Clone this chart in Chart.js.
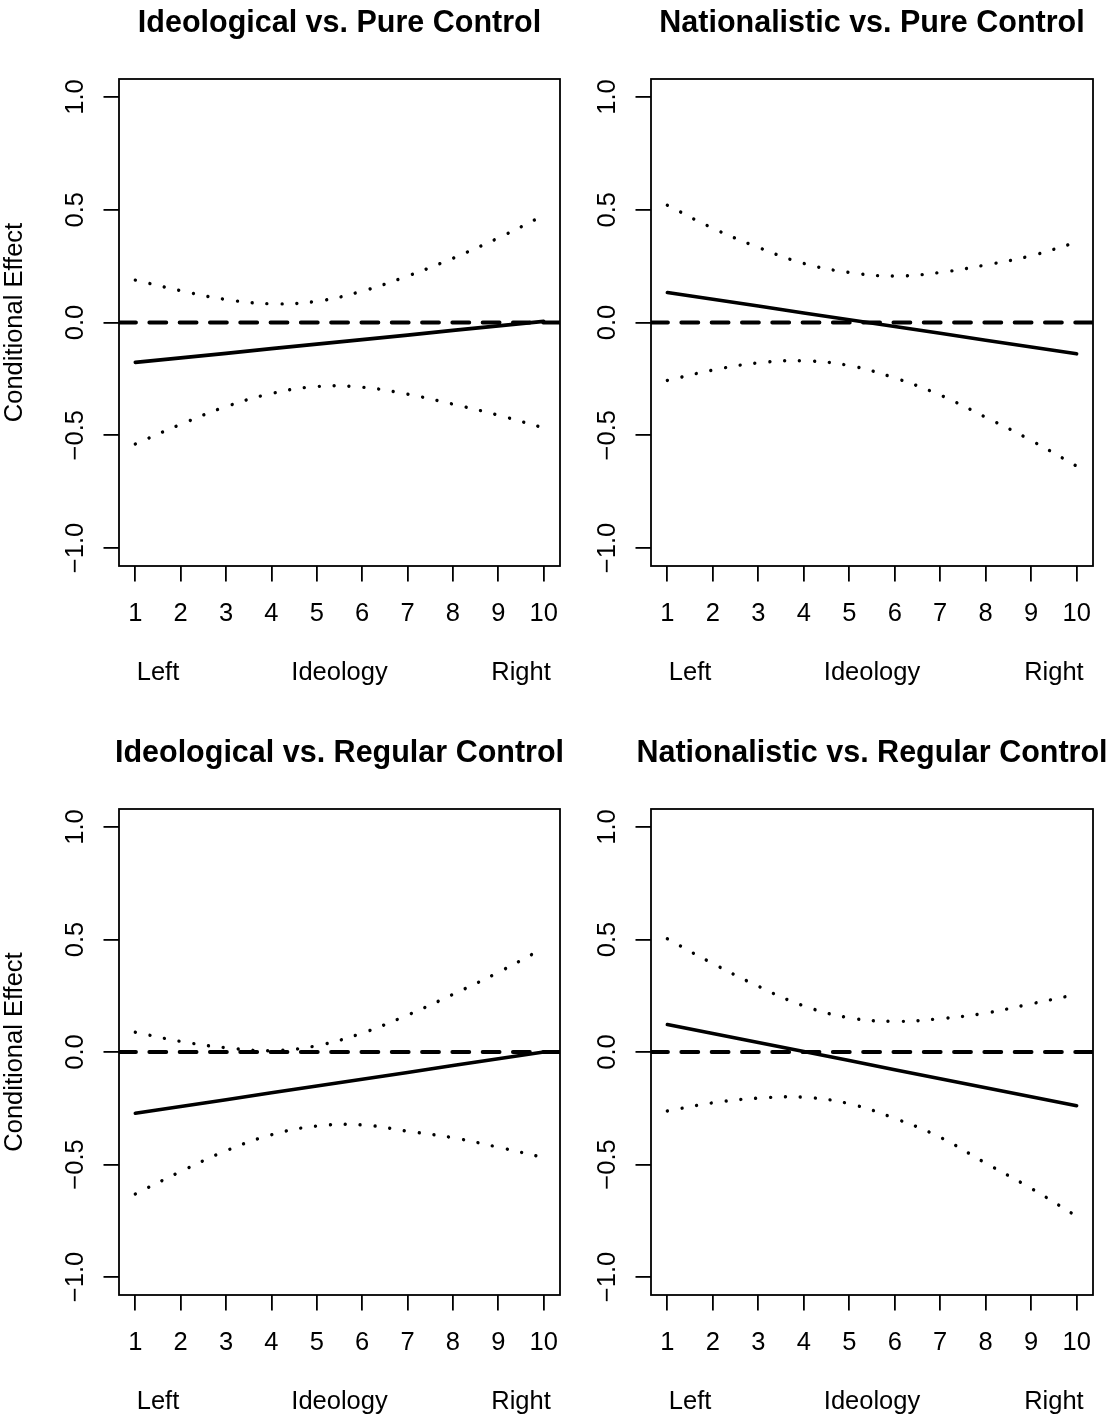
<!DOCTYPE html>
<html>
<head>
<meta charset="utf-8">
<title>Conditional effects by ideology</title>
<script src="https://cdn.jsdelivr.net/npm/chart.js@4.4.1/dist/chart.umd.min.js"></script>
<style>
  html, body { margin: 0; padding: 0; background: #fff; overflow: hidden; }
  #page { position: relative; width: 1107px; height: 1418px; overflow: hidden; }
  #page canvas { position: absolute; }
</style>
</head>
<body>
<div id="page"></div>
<script>
// x positions and tick labels
const ideology = [1, 2, 3, 4, 5, 6, 7, 8, 9, 10];
const yTicks = [-1, -0.5, 0, 0.5, 1];
const sideTicks = [1.5, 5.5, 9.5];
const sideLabels = ["Left", "Ideology", "Right"];
const xLimits = [0.64, 10.36];
const yLimits = [-1.08, 1.08];

const panelTitles = [
  "Ideological vs. Pure Control",
  "Nationalistic vs. Pure Control",
  "Ideological vs. Regular Control",
  "Nationalistic vs. Regular Control"
];

// Ideological vs. Pure Control
const ideoPureEffect = [-0.177, -0.157, -0.137, -0.116, -0.096, -0.076, -0.056, -0.035, -0.015, 0.005];
const ideoPureUpper  = [0.188, 0.141, 0.102, 0.083, 0.094, 0.139, 0.206, 0.285, 0.375, 0.475];
const ideoPureLower  = [-0.539, -0.452, -0.373, -0.315, -0.284, -0.287, -0.318, -0.362, -0.411, -0.467];

// Nationalistic vs. Pure Control
const natPureEffect = [0.133, 0.103, 0.073, 0.042, 0.012, -0.018, -0.048, -0.079, -0.109, -0.139];
const natPureUpper  = [0.520, 0.418, 0.333, 0.262, 0.222, 0.206, 0.222, 0.255, 0.296, 0.356];
const natPureLower  = [-0.257, -0.211, -0.179, -0.170, -0.191, -0.246, -0.322, -0.420, -0.523, -0.637];

// Ideological vs. Regular Control
const ideoRegEffect = [-0.272, -0.242, -0.212, -0.181, -0.151, -0.121, -0.091, -0.060, -0.030, 0.000];
const ideoRegUpper  = [0.088, 0.047, 0.019, 0.006, 0.028, 0.084, 0.164, 0.256, 0.354, 0.462];
const ideoRegLower  = [-0.631, -0.531, -0.439, -0.368, -0.329, -0.324, -0.352, -0.381, -0.423, -0.469];

// Nationalistic vs. Regular Control
const natRegEffect = [0.122, 0.082, 0.042, 0.002, -0.038, -0.079, -0.119, -0.159, -0.199, -0.239];
const natRegUpper  = [0.503, 0.393, 0.292, 0.205, 0.152, 0.136, 0.148, 0.173, 0.214, 0.256];
const natRegLower  = [-0.262, -0.226, -0.205, -0.201, -0.230, -0.295, -0.379, -0.494, -0.606, -0.730];

const ink = "#000";
const family = '"Liberation Sans", Arial, Helvetica, sans-serif';
const labelFont = { family: family, size: 25.5 };

Chart.defaults.font.family = family;
Chart.defaults.color = ink;

// where each panel sits on the page and how its plot box is placed inside it
const panels = [
  { title: panelTitles[0], effect: ideoPureEffect, upper: ideoPureUpper, lower: ideoPureLower,
    left: 0, top: 0, width: 565, height: 730, axisWidth: 119, padRight: 5, padBottom: 34, yTitle: true },
  { title: panelTitles[1], effect: natPureEffect, upper: natPureUpper, lower: natPureLower,
    left: 565, top: 0, width: 542, height: 730, axisWidth: 86, padRight: 14, padBottom: 34, yTitle: false },
  { title: panelTitles[2], effect: ideoRegEffect, upper: ideoRegUpper, lower: ideoRegLower,
    left: 0, top: 730, width: 565, height: 708, axisWidth: 119, padRight: 5, padBottom: 13, yTitle: true },
  { title: panelTitles[3], effect: natRegEffect, upper: natRegUpper, lower: natRegLower,
    left: 565, top: 730, width: 542, height: 708, axisWidth: 86, padRight: 14, padBottom: 13, yTitle: false }
];

// box around the plot region plus the bold heading above it
const panelFrame = {
  id: "panelFrame",
  afterDatasetsDraw(chart, args, opts) {
    const { ctx, chartArea: a } = chart;
    ctx.save();
    ctx.strokeStyle = ink;
    ctx.lineWidth = 1.8;
    ctx.strokeRect(a.left, a.top, a.right - a.left, a.bottom - a.top);
    ctx.font = "bold 30.5px " + family;
    ctx.fillStyle = ink;
    ctx.textAlign = "center";
    ctx.textBaseline = "middle";
    ctx.fillText(opts.title, (a.left + a.right) / 2, a.top - 55);
    ctx.restore();
  }
};

const toPoints = (values) => ideology.map((x, i) => ({ x: x, y: values[i] }));
const minus = (v) => v.toFixed(1).replace("-", "\u2212");
const noPadding = (s) => { s.paddingLeft = 0; s.paddingRight = 0; s.paddingTop = 0; s.paddingBottom = 0; };

function buildScales(p) {
  return {
    x: {
      type: "linear", position: "bottom", min: xLimits[0], max: xLimits[1], bounds: "data",
      afterBuildTicks: (s) => { s.ticks = ideology.map((v) => ({ value: v })); },
      afterFit: (s) => { s.height = 70; noPadding(s); },
      grid: { drawOnChartArea: false, drawTicks: true, tickLength: 15.5, lineWidth: 1.8, color: ink },
      border: { display: false },
      ticks: { font: labelFont, color: ink, padding: 17, autoSkip: false, maxRotation: 0,
               callback: (v) => String(v) }
    },
    side: {
      type: "linear", position: "bottom", weight: 1, min: xLimits[0], max: xLimits[1], bounds: "data",
      afterBuildTicks: (s) => { s.ticks = sideTicks.map((v) => ({ value: v })); },
      afterFit: (s) => { s.height = 60; noPadding(s); },
      grid: { display: false, drawTicks: false, tickLength: 0 },
      border: { display: false },
      ticks: { font: labelFont, color: ink, padding: 21.7, autoSkip: false, maxRotation: 0,
               callback: (v, i) => sideLabels[i] }
    },
    y: {
      type: "linear", position: "left", min: yLimits[0], max: yLimits[1], bounds: "data",
      afterBuildTicks: (s) => { s.ticks = yTicks.map((v) => ({ value: v })); },
      afterFit: (s) => { s.width = p.axisWidth; noPadding(s); },
      grid: { drawOnChartArea: false, drawTicks: true, tickLength: 15.5, lineWidth: 1.8, color: ink },
      border: { display: false },
      ticks: { font: labelFont, color: ink, padding: 2.5, autoSkip: false,
               minRotation: 90, maxRotation: 90, crossAlign: "center", callback: minus },
      title: { display: p.yTitle, text: "Conditional Effect", color: ink, padding: { top: 2, bottom: 0 },
               font: { family: family, size: 25.5, lineHeight: 1 } }
    }
  };
}

const page = document.getElementById("page");

panels.forEach((p) => {
  const canvas = document.createElement("canvas");
  canvas.width = p.width;
  canvas.height = p.height;
  canvas.style.left = p.left + "px";
  canvas.style.top = p.top + "px";
  page.appendChild(canvas);

  new Chart(canvas.getContext("2d"), {
    type: "line",
    data: {
      datasets: [
        {
          // reference line at zero
          data: [{ x: xLimits[0], y: 0 }, { x: xLimits[1], y: 0 }],
          borderColor: ink, borderWidth: 3.8, borderDash: [17, 13.3], borderCapStyle: "round",
          pointRadius: 0, tension: 0
        },
        {
          data: toPoints(p.effect),
          borderColor: ink, borderWidth: 3.6, borderCapStyle: "round",
          pointRadius: 0, tension: 0
        },
        {
          data: toPoints(p.upper),
          borderColor: ink, borderWidth: 3.4, borderDash: [0.001, 14.9], borderCapStyle: "round",
          pointRadius: 0, tension: 0.4
        },
        {
          data: toPoints(p.lower),
          borderColor: ink, borderWidth: 3.4, borderDash: [0.001, 14.9], borderCapStyle: "round",
          pointRadius: 0, tension: 0.4
        }
      ]
    },
    options: {
      responsive: false,
      animation: false,
      devicePixelRatio: 1,
      events: [],
      layout: { padding: { left: 0, top: 79, right: p.padRight, bottom: p.padBottom } },
      scales: buildScales(p),
      plugins: {
        legend: { display: false },
        tooltip: { enabled: false },
        panelFrame: { title: p.title }
      }
    },
    plugins: [panelFrame]
  });
});
</script>
</body>
</html>
